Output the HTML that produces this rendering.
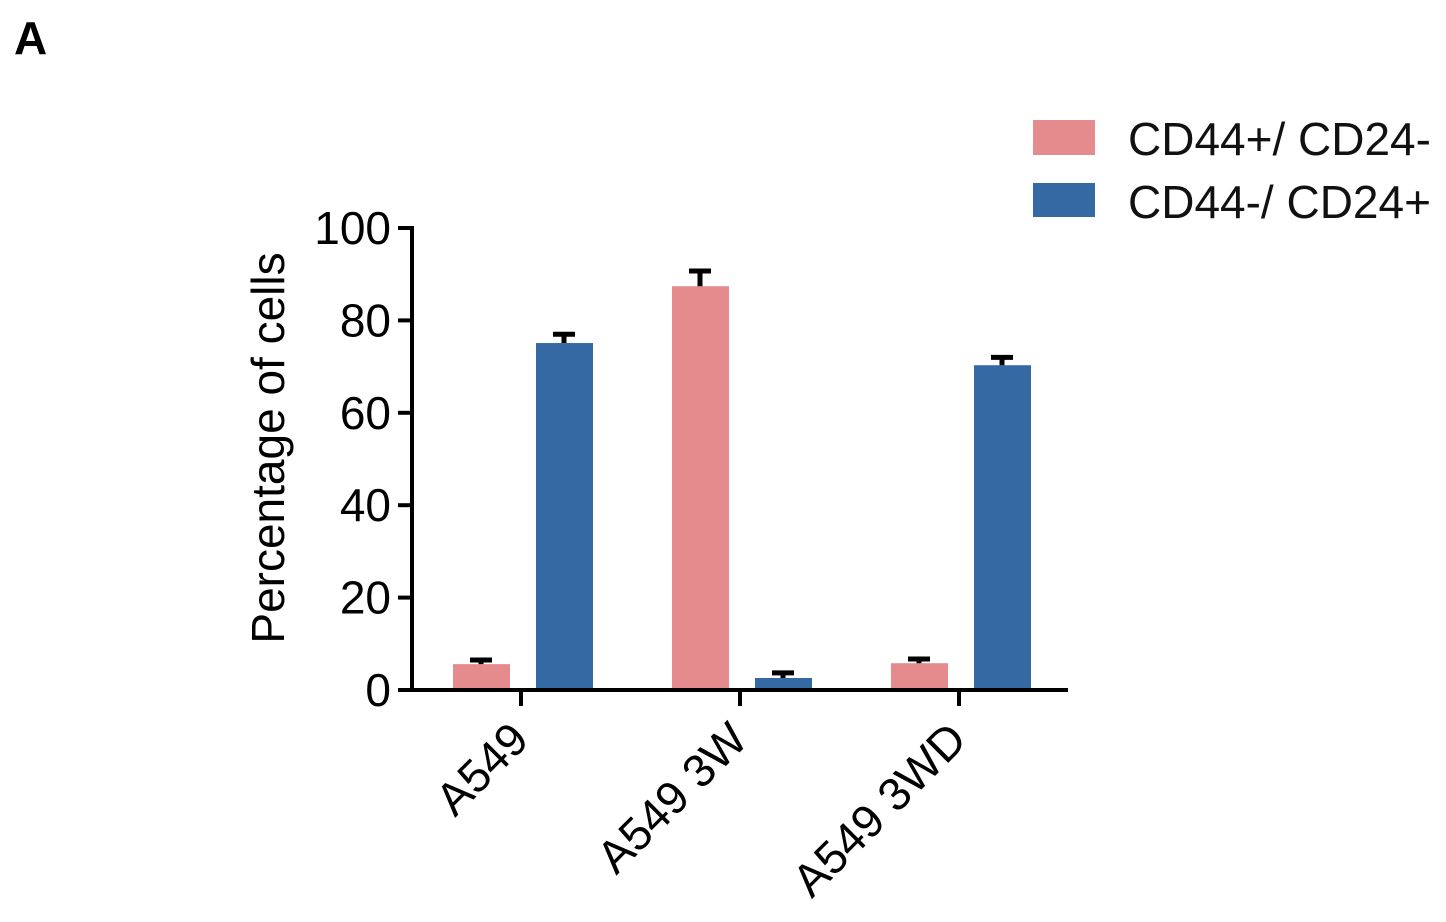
<!DOCTYPE html>
<html><head><meta charset="utf-8"><style>
body{margin:0;background:#fff;width:1446px;height:917px;overflow:hidden}
svg{font-family:"Liberation Sans",Arial,sans-serif}
</style></head><body>
<svg id="chart" width="1446" height="917" xmlns="http://www.w3.org/2000/svg">
<text x="14" y="54" font-size="46" font-weight="bold">A</text>
<g id="plot"></g>
<g>
<rect x="1033" y="120" width="62" height="35" fill="#E58B8E"/>
<text x="1128" y="155" font-size="46" fill="#111">CD44+/ CD24-</text>
<rect x="1033" y="183" width="62" height="34" fill="#3569A3"/>
<text x="1128" y="218" font-size="46" fill="#111">CD44-/ CD24+</text>
</g>
</svg>
<script>
const categories=["A549","A549 3W","A549 3WD"];
const seriesPink=[5.6,87.4,5.8];
const errPink=[0.9,3.3,0.9];
const seriesBlue=[75.1,2.6,70.3];
const errBlue=[1.9,1.1,1.7];
const yTicks=[0,20,40,60,80,100];
const NS="http://www.w3.org/2000/svg";
const g=document.getElementById('plot');
const y=v=>690-v*4.62;
const xc=i=>521+i*219;
function mk(t,a){const e=document.createElementNS(NS,t);for(const k in a)e.setAttribute(k,a[k]);g.appendChild(e);return e;}
function bar(cx,v,err,col,name){
 const r=mk('rect',{x:cx-28,y:y(v),width:57,height:690-y(v),fill:col});
 
 
 const l=mk('path',{d:`M${cx} ${y(v)}V${y(v+err)}M${cx-11} ${y(v+err)}H${cx+11}`,stroke:'#000','stroke-width':5,fill:'none'});
 
 
}
categories.forEach((c,i)=>{
 bar(xc(i)-40,seriesPink[i],errPink[i],'#E58B8E','bar-cd44pos-'+i);
 bar(xc(i)+43,seriesBlue[i],errBlue[i],'#3569A3','bar-cd44neg-'+i);
 const t=mk('path',{d:`M${xc(i)} 690V706`,stroke:'#000','stroke-width':4});
 
 
 const tx=mk('text',{x:0,y:0,'font-size':46,'text-anchor':'end',transform:`translate(${xc(i)+10},${742}) rotate(-45)`});
 tx.textContent=c;
 
 
});
yTicks.forEach(v=>{
 const t=mk('path',{d:`M398 ${y(v)}H412`,stroke:'#000','stroke-width':4});
 
 
 const tx=mk('text',{x:391,y:y(v)+16,'font-size':46,'text-anchor':'end'});
 tx.textContent=v;
 
 
});
const ax=mk('path',{d:`M412 ${y(100)-2}V690H1068`,stroke:'#000','stroke-width':4,fill:'none'});


const yt=mk('text',{x:0,y:0,'font-size':46,'text-anchor':'middle',transform:'translate(284,448) rotate(-90)'});
yt.textContent='Percentage of cells';


</script>
</body></html>
